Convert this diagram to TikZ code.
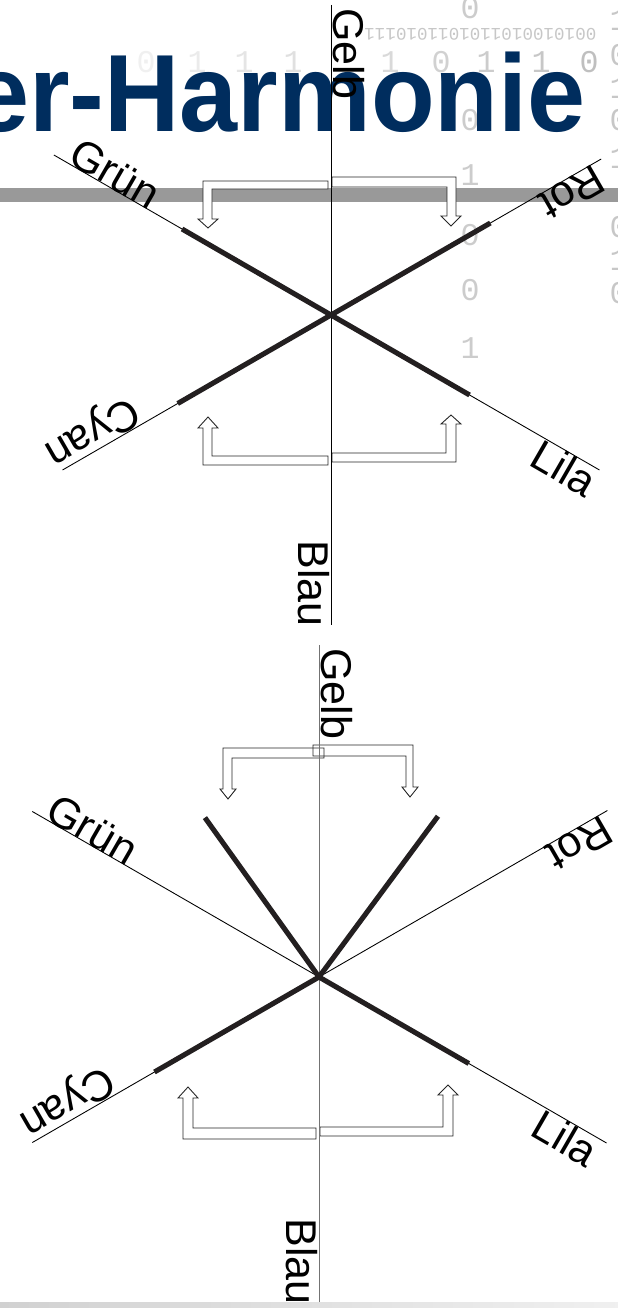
\documentclass[tikz,border=0pt]{standalone}
\usepackage{fontspec}
\setmainfont{Liberation Sans}
\newfontfamily\bitfont{Liberation Mono}
\usepackage{tikz}
\usetikzlibrary{calc}
\definecolor{titleblue}{RGB}{0,45,94}
\definecolor{barrenschwarz}{RGB}{35,31,32}

\begin{document}
\begin{tikzpicture}[x=0.02cm, y=-0.02cm,
  axis/.style={line width=0.5pt, black},
  thickbar/.style={line width=2.9pt, barrenschwarz},
  lbl/.style={inner sep=0pt, font=\fontsize{24.5}{28}\selectfont},
  hollow/.style={draw=black!85, line width=0.5pt, fill=white},
  bit/.style={inner sep=0pt, font=\bitfont\fontsize{18}{20}\selectfont, text=black!20}]
\useasboundingbox (0,0) rectangle (618,1308);
\clip (0,0) rectangle (618,1308);
\fill[white] (0,0) rectangle (618,1308);

% binary background
\foreach \x/\b/\c in {146/0/6, 197/1/8, 244/1/10, 293/1/12, 390/1/15, 441/0/18, 486/1/20, 541/1/22, 589/0/25}
  \node[bit, text=black!\c] (bitrow\x) at (\x,62) {\b};
\foreach \y/\b in {8/0, 120/0, 175/1, 235/0, 290/0, 348/1}
  \node[bit] (bitcol\y) at (470,\y) {\b};
\foreach \y/\b in {20/1, 55/0, 88/1, 120/0, 158/1, 227/0, 260/1, 293/0}
  \node[bit, text=black!22] (bitrand\y) at (619,\y) {\b};
\node[inner sep=0pt, anchor=east, rotate=180, text=black!22, font=\bitfont\fontsize{10}{11}\selectfont] (bitline) at (364,34) {0010100101101011010111};

% title
\node[inner sep=0pt, anchor=base east, xscale=0.95, text=titleblue, font=\fontsize{62.5}{70}\selectfont\bfseries] (title) at (586,132) {er-Harmonie};
\fill[black!40] (0,188) rectangle (618,202);

%%%% upper star
\coordinate (c1) at (331,315);
\draw[hollow] (328,181) -- (203,181) -- (203,219) -- (198,219) -- (208,228) -- (218,219) -- (212,219) -- (212,189) -- (328,189) -- cycle;
\draw[hollow] (332,177) -- (456,177) -- (456,216) -- (461,216) -- (451,226) -- (441,216) -- (447,216) -- (447,187) -- (332,187) -- cycle;
\draw[hollow] (328,465) -- (203,465) -- (203,428) -- (198,428) -- (208,417) -- (218,428) -- (212,428) -- (212,456) -- (328,456) -- cycle;
\draw[hollow] (332,462) -- (456,462) -- (456,424) -- (461,424) -- (451,415) -- (441,424) -- (446,424) -- (446,453) -- (332,453) -- cycle;

\coordinate (gelb1) at (331,5); \coordinate (blau1) at (331,625);
\coordinate (gruen1) at ($(c1)+(210:320)$);
\coordinate (lila1) at ($(c1)+(30:310)$);
\coordinate (rot1) at ($(c1)+(330:312)$);
\coordinate (cyan1) at ($(c1)+(150:310)$);
\draw[axis] (gelb1) -- (blau1);
\draw[axis] (gruen1) -- (lila1);
\draw[axis] (rot1) -- (cyan1);
\draw[thickbar] ($(c1)+(210:172)$) -- ($(c1)+(30:160)$);
\draw[thickbar] ($(c1)+(330:184)$) -- ($(c1)+(150:177)$);

\node[lbl, rotate=-90, anchor=base west] (gelblbl1) at (333,8) {Gelb};
\node[lbl, rotate=-90, anchor=north west] (blaulbl1) at (330,540) {Blau};
\node[lbl, rotate=-30, anchor=base west] (gruenlbl1) at ($(c1)+(210:306)$) {Grün};
\node[lbl, rotate=210, anchor=base west] (rotlbl1) at ($(c1)+(330:304)$) {Rot};
\node[lbl, rotate=210, anchor=north west] (cyanlbl1) at ($(c1)+(150:215)$) {Cyan};
\node[lbl, rotate=-30, anchor=north west] (lilalbl1) at ($(c1)+(30:245)$) {Lila};

%%%% lower star
\coordinate (c2) at (319,977);
\draw[hollow, fill=none] (324,748) -- (223,748) -- (223,789) -- (220,789) -- (228,799) -- (236,789) -- (232,789) -- (232,758) -- (324,758) -- cycle;
\draw[hollow, fill=none] (313,745) -- (413,745) -- (413,787) -- (418,787) -- (410,797) -- (402,787) -- (406,787) -- (406,756) -- (313,756) -- cycle;
\draw[hollow] (316,1139) -- (183,1139) -- (183,1098) -- (178,1098) -- (188,1087) -- (198,1098) -- (193,1098) -- (193,1128) -- (316,1128) -- cycle;
\draw[hollow] (320,1136) -- (453,1136) -- (453,1095) -- (458,1095) -- (448,1085) -- (438,1095) -- (443,1095) -- (443,1127) -- (320,1127) -- cycle;

\coordinate (gelb2) at (319,645); \coordinate (blau2) at (319,1308);
\coordinate (gruen2) at ($(c2)+(210:331)$);
\coordinate (lila2) at ($(c2)+(30:332)$);
\coordinate (rot2) at ($(c2)+(330:333)$);
\coordinate (cyan2) at ($(c2)+(150:331)$);
\draw[axis, black!55] (gelb2) -- (blau2);
\draw[axis] (gruen2) -- (lila2);
\draw[axis] (rot2) -- (cyan2);
\draw[thickbar] (c2) -- ($(c2)+(150:190)$);
\draw[thickbar] (c2) -- ($(c2)+(30:173)$);
\draw[thickbar] (c2) -- ($(c2)+(234.4:196)$);
\draw[thickbar] (c2) -- ($(c2)+(306.5:200)$);

\node[lbl, rotate=-90, anchor=base west] (gelblbl2) at (321,648) {Gelb};
\node[lbl, rotate=-90, anchor=north west] (blaulbl2) at (318,1218) {Blau};
\node[lbl, rotate=-30, anchor=base west] (gruenlbl2) at ($(c2)+(210:318)$) {Grün};
\node[lbl, rotate=210, anchor=base west] (rotlbl2) at ($(c2)+(330:326)$) {Rot};
\node[lbl, rotate=210, anchor=north west] (cyanlbl2) at ($(c2)+(150:230)$) {Cyan};
\node[lbl, rotate=-30, anchor=north west] (lilalbl2) at ($(c2)+(30:260)$) {Lila};

\shade[left color=black!18, right color=black!6] (0,1302) rectangle (618,1308);
\end{tikzpicture}
\end{document}
